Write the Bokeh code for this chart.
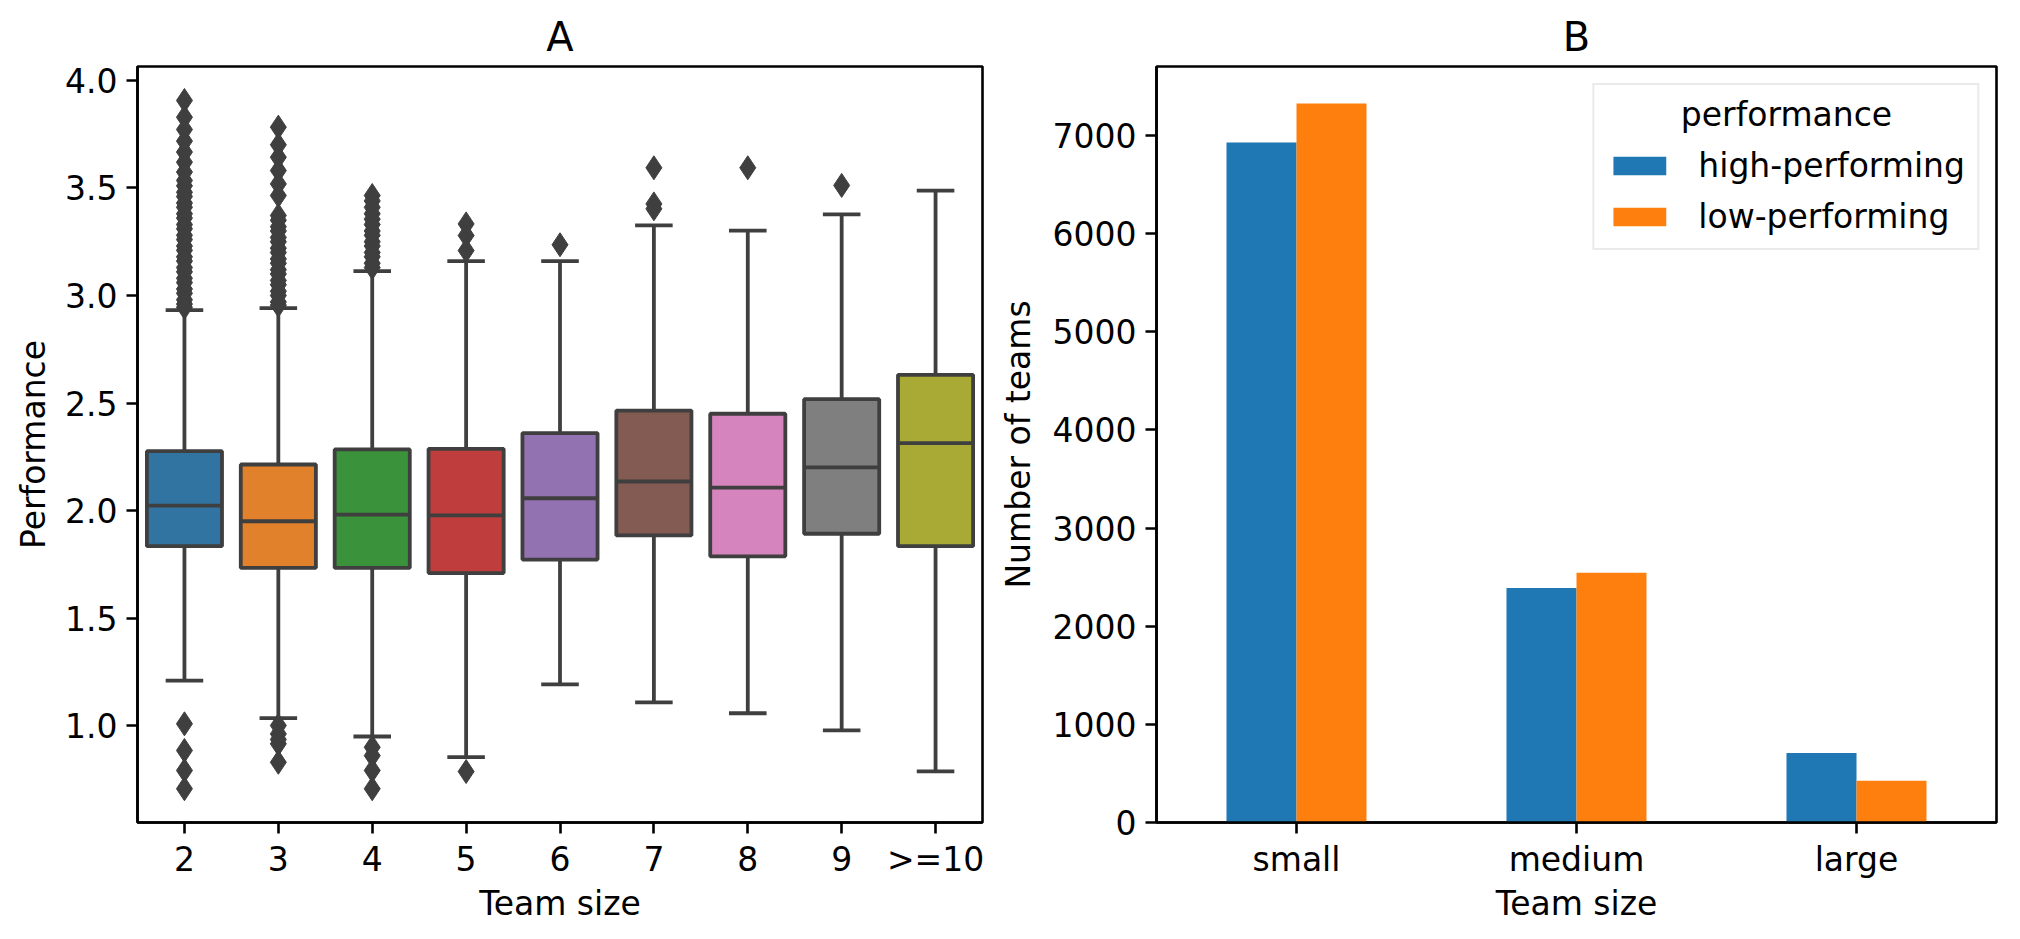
from bokeh.plotting import figure
from bokeh.models import (FactorRange, Range1d, ColumnDataSource, FixedTicker,
                          PrintfTickFormatter, Legend, LegendItem, Label)
from bokeh.transform import dodge
from bokeh.layouts import row
from bokeh.embed import file_html
from bokeh.resources import INLINE

FONT = "DejaVu Sans"
LINE = "#3f3f3f"
FS = "33px"

# ---------------- Panel A data: box plot of performance by team size ----------------
team_sizes = ["2", "3", "4", "5", "6", "7", "8", "9", ">=10"]
box_colors = ["#3274a1", "#e1812c", "#3a923a", "#c03d3e", "#9372b2",
              "#845b53", "#d684bd", "#7f7f7f", "#a9aa35"]
q1 = [1.834, 1.733, 1.733, 1.709, 1.772, 1.884, 1.787, 1.892, 1.834]
median = [2.023, 1.950, 1.981, 1.977, 2.057, 2.135, 2.106, 2.201, 2.313]
q3 = [2.276, 2.214, 2.284, 2.287, 2.360, 2.465, 2.450, 2.518, 2.631]
whisker_low = [1.209, 1.034, 0.949, 0.853, 1.191, 1.108, 1.057, 0.977, 0.787]
whisker_high = [2.932, 2.941, 3.113, 3.160, 3.160, 3.326, 3.302, 3.377, 3.488]

fliers_2 = [3.907, 3.829, 3.772, 3.718, 3.667, 3.620, 3.574, 3.535, 3.51, 3.48,
            3.46, 3.43, 3.41, 3.38, 3.36, 3.33, 3.31, 3.28, 3.26, 3.23, 3.21,
            3.18, 3.16, 3.13, 3.11, 3.08, 3.06, 3.03, 3.01, 2.98, 2.96, 2.945,
            1.008, 0.884, 0.791, 0.706]
fliers_3 = [3.783, 3.701, 3.643, 3.581, 3.519, 3.465, 3.372, 3.35, 3.32, 3.30,
            3.27, 3.25, 3.22, 3.20, 3.17, 3.15, 3.12, 3.10, 3.07, 3.05, 3.02,
            3.00, 2.97, 2.955, 1.000, 0.961, 0.935, 0.915, 0.829]
fliers_4 = [3.465, 3.44, 3.41, 3.38, 3.355, 3.33, 3.30, 3.28, 3.25, 3.23,
            3.20, 3.18, 3.15, 3.13, 0.899, 0.860, 0.791, 0.706]
fliers_5 = [3.333, 3.279, 3.209, 0.786]
fliers_6 = [3.236]
fliers_7 = [3.594, 3.426, 3.403]
fliers_8 = [3.594]
fliers_9 = [3.512]
fliers_10 = []

# ---------------- Panel B data: number of teams ----------------
size_groups = ["small", "medium", "large"]
high_performing = [6929, 2389, 707]
low_performing = [7326, 2545, 425]
legend_title = "performance"
legend_labels = ["high-performing", "low-performing"]


def style_axes(p):
    p.outline_line_color = "black"
    p.outline_line_width = 2.6
    p.outline_line_alpha = 1.0
    p.xgrid.visible = False
    p.ygrid.visible = False
    p.background_fill_color = "white"
    p.border_fill_color = "white"
    for ax in list(p.xaxis) + list(p.yaxis):
        ax.axis_line_color = "black"
        ax.axis_line_width = 2.6
        ax.major_tick_line_color = "black"
        ax.major_tick_line_width = 2.6
        ax.major_tick_out = 11
        ax.major_tick_in = 0
        ax.minor_tick_line_color = None
        ax.major_label_text_font = FONT
        ax.major_label_text_font_size = FS
        ax.major_label_text_color = "black"
        ax.axis_label_text_font = FONT
        ax.axis_label_text_font_size = FS
        ax.axis_label_text_font_style = "normal"
        ax.axis_label_text_color = "black"
    for ax in p.xaxis:
        ax.major_label_standoff = 6
        ax.axis_label_standoff = 2
    p.title.text_font = FONT
    p.title.text_font_size = "40px"
    p.title.text_font_style = "normal"
    p.title.align = "center"
    p.title.text_color = "black"
    p.title.standoff = 14


# ---------------- Panel A ----------------
p1 = figure(x_range=FactorRange(*team_sizes), y_range=Range1d(0.549, 4.065),
            width=995, height=935, min_border_left=137, min_border_right=13,
            min_border_top=66, min_border_bottom=113,
            output_backend="svg", toolbar_location=None, title="A")
style_axes(p1)
p1.xaxis.axis_label = "Team size"
p1.yaxis.axis_label = "Performance"
p1.yaxis.ticker = FixedTicker(ticks=[1.0, 1.5, 2.0, 2.5, 3.0, 3.5, 4.0])
p1.yaxis.formatter = PrintfTickFormatter(format="%.1f")
p1.yaxis.major_label_standoff = 9
p1.yaxis.axis_label_standoff = 9

box_src = ColumnDataSource(dict(cat=team_sizes, q1=q1, med=median, q3=q3,
                                lo=whisker_low, hi=whisker_high, color=box_colors))
LW = 3.8
# whiskers
p1.segment(x0="cat", x1="cat", y0="q3", y1="hi", source=box_src, line_color=LINE, line_width=LW)
p1.segment(x0="cat", x1="cat", y0="q1", y1="lo", source=box_src, line_color=LINE, line_width=LW)
# caps
p1.segment(x0=dodge("cat", -0.2, range=p1.x_range), x1=dodge("cat", 0.2, range=p1.x_range),
           y0="hi", y1="hi", source=box_src, line_color=LINE, line_width=LW)
p1.segment(x0=dodge("cat", -0.2, range=p1.x_range), x1=dodge("cat", 0.2, range=p1.x_range),
           y0="lo", y1="lo", source=box_src, line_color=LINE, line_width=LW)
# boxes
p1.vbar(x="cat", bottom="q1", top="q3", width=0.8, source=box_src,
        fill_color="color", line_color=LINE, line_width=LW)
# medians
p1.segment(x0=dodge("cat", -0.4, range=p1.x_range), x1=dodge("cat", 0.4, range=p1.x_range),
           y0="med", y1="med", source=box_src, line_color=LINE, line_width=LW)

flier_lists = [fliers_2, fliers_3, fliers_4, fliers_5, fliers_6,
               fliers_7, fliers_8, fliers_9, fliers_10]
fx, fy = [], []
for cat, vals in zip(team_sizes, flier_lists):
    for v in vals:
        fx.append(cat)
        fy.append(v)
p1.scatter(x=fx, y=fy, marker="diamond", size=24, fill_color=LINE, line_color=LINE)

# ---------------- Panel B ----------------
p2 = figure(x_range=FactorRange(*size_groups), y_range=Range1d(0, 7703),
            width=1020, height=935, min_border_left=155, min_border_right=19,
            min_border_top=66, min_border_bottom=113,
            output_backend="svg", toolbar_location=None, title="B")
style_axes(p2)
p2.xaxis.axis_label = "Team size"
p2.yaxis.axis_label = "Number of teams"
p2.yaxis.ticker = FixedTicker(ticks=[0, 1000, 2000, 3000, 4000, 5000, 6000, 7000])
p2.yaxis.formatter = PrintfTickFormatter(format="%d")
p2.yaxis.major_label_standoff = 9
p2.yaxis.axis_label_standoff = 12

bar_src = ColumnDataSource(dict(size=size_groups, high=high_performing, low=low_performing))
r_high = p2.vbar(x=dodge("size", -0.125, range=p2.x_range), top="high", bottom=0, width=0.25,
                 source=bar_src, fill_color="#1f77b4", line_color=None)
r_low = p2.vbar(x=dodge("size", 0.125, range=p2.x_range), top="low", bottom=0, width=0.25,
                source=bar_src, fill_color="#ff7f0e", line_color=None)

# legend: blank title reserves the title row; the centred title is drawn as a label
legend = Legend(items=[LegendItem(label=legend_labels[0], renderers=[r_high]),
                       LegendItem(label=legend_labels[1], renderers=[r_low])],
                location="top_right", title=" ")
legend.title_text_font = FONT
legend.title_text_font_size = FS
legend.title_text_font_style = "normal"
legend.title_standoff = 10
legend.label_text_font = FONT
legend.label_text_font_size = FS
legend.label_text_color = "black"
legend.glyph_width = 66
legend.glyph_height = 23
legend.label_standoff = 26
legend.label_height = 38
legend.padding = 12
legend.spacing = 12
legend.margin = 17
legend.border_line_color = "#d6d6d6"
legend.border_line_width = 2.6
legend.background_fill_color = None
p2.add_layout(legend)

title_label = Label(x=2.25, y=7217, text=legend_title, text_align="center",
                    text_baseline="middle", text_font=FONT, text_font_size=FS,
                    text_color="black", text_alpha=1.0)
p2.add_layout(title_label)

layout = row(p1, p2, spacing=0)
open("out.html", "w").write(file_html(layout, INLINE))
